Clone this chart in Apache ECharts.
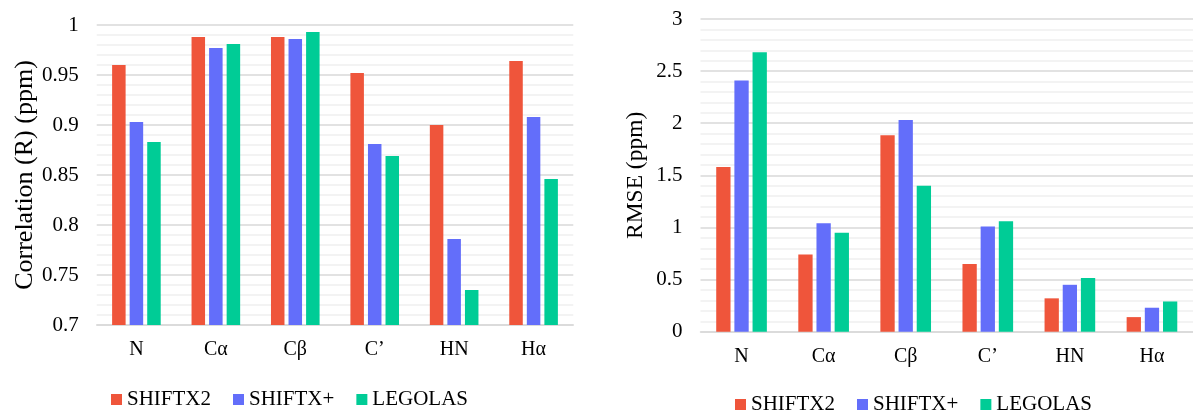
<!DOCTYPE html>
<html>
<head>
<meta charset="utf-8">
<script src="https://cdn.jsdelivr.net/npm/echarts@6/dist/echarts.min.js"></script>
<style>
html,body{margin:0;padding:0;background:#fff;}
#chart{width:1193px;height:412px;}
</style>
</head>
<body>
<div id="chart"></div>
<script>
var categories = ['N', 'Cα', 'Cβ', 'C’', 'HN', 'Hα'];
var seriesNames = ['SHIFTX2', 'SHIFTX+', 'LEGOLAS'];
var colors = ['#EF553B', '#636EFA', '#00CC96'];

var corrShiftx2 = [0.960, 0.988, 0.988, 0.952, 0.900, 0.964];
var corrShiftxPlus = [0.903, 0.977, 0.986, 0.881, 0.786, 0.908];
var corrLegolas = [0.883, 0.981, 0.993, 0.869, 0.735, 0.846];

var rmseShiftx2 = [1.58, 0.74, 1.885, 0.65, 0.32, 0.14];
var rmseShiftxPlus = [2.41, 1.04, 2.03, 1.01, 0.45, 0.23];
var rmseLegolas = [2.68, 0.95, 1.40, 1.06, 0.515, 0.29];

var corrTicks = { min: 0.7, max: 1, interval: 0.05 };
var rmseTicks = { min: 0, max: 3, interval: 0.5 };

var FONT = 'Liberation Serif';
var TEXT = '#000';
var MAJOR = '#d9d9d9';
var MINOR = '#f0f0f0';

function xAxisFor(gi) {
  return {
    type: 'category', gridIndex: gi, data: categories,
    axisLine: { show: true, lineStyle: { color: MAJOR, width: 1.5 } },
    axisTick: { show: false },
    axisLabel: { color: TEXT, fontFamily: FONT, fontSize: 20, margin: 15 }
  };
}
function yAxisFor(gi, t, name, nameSize, nameGap) {
  return {
    type: 'value', gridIndex: gi, min: t.min, max: t.max, interval: t.interval,
    name: name, nameLocation: 'middle', nameGap: nameGap,
    nameTextStyle: { color: TEXT, fontFamily: FONT, fontSize: nameSize },
    axisLine: { show: false }, axisTick: { show: false },
    axisLabel: { color: TEXT, fontFamily: FONT, fontSize: 21, margin: 18 },
    splitLine: { show: true, lineStyle: { color: MAJOR, width: 1.5 } },
    minorTick: { show: false, splitNumber: 5 },
    minorSplitLine: { show: true, lineStyle: { color: MINOR, width: 1.5 } }
  };
}
function barSeries(name, idx, gi, data, gap, catGap) {
  return {
    type: 'bar', name: name, xAxisIndex: gi, yAxisIndex: gi, data: data,
    itemStyle: { color: colors[idx] },
    barGap: gap, barCategoryGap: catGap,
    emphasis: { disabled: true }
  };
}
function legendFor(left, top) {
  return {
    left: left, top: top, data: seriesNames, icon: 'rect',
    itemWidth: 11, itemHeight: 11, itemGap: 22,
    textStyle: { color: TEXT, fontFamily: FONT, fontSize: 21 },
    padding: 0, selectedMode: false
  };
}

var chart = echarts.init(document.getElementById('chart'), null, { renderer: 'canvas' });
chart.setOption({
  animation: false,
  backgroundColor: '#fff',
  color: colors,
  legend: [legendFor(111, 389), legendFor(735, 394)],
  grid: [
    { left: 96.7, top: 25, width: 476.6, height: 300, containLabel: false },
    { left: 700.5, top: 19, width: 504, height: 312.7, containLabel: false }
  ],
  xAxis: [xAxisFor(0), xAxisFor(1)],
  yAxis: [
    yAxisFor(0, corrTicks, 'Correlation (R) (ppm)', 26, 57),
    yAxisFor(1, rmseTicks, 'RMSE (ppm)', 23.5, 53)
  ],
  series: [
    barSeries(seriesNames[0], 0, 0, corrShiftx2, '30%', '38.8%'),
    barSeries(seriesNames[1], 1, 0, corrShiftxPlus, '30%', '38.8%'),
    barSeries(seriesNames[2], 2, 0, corrLegolas, '30%', '38.8%'),
    barSeries(seriesNames[0], 0, 1, rmseShiftx2, '27%', '38.3%'),
    barSeries(seriesNames[1], 1, 1, rmseShiftxPlus, '27%', '38.3%'),
    barSeries(seriesNames[2], 2, 1, rmseLegolas, '27%', '38.3%')
  ]
});
</script>
</body>
</html>
